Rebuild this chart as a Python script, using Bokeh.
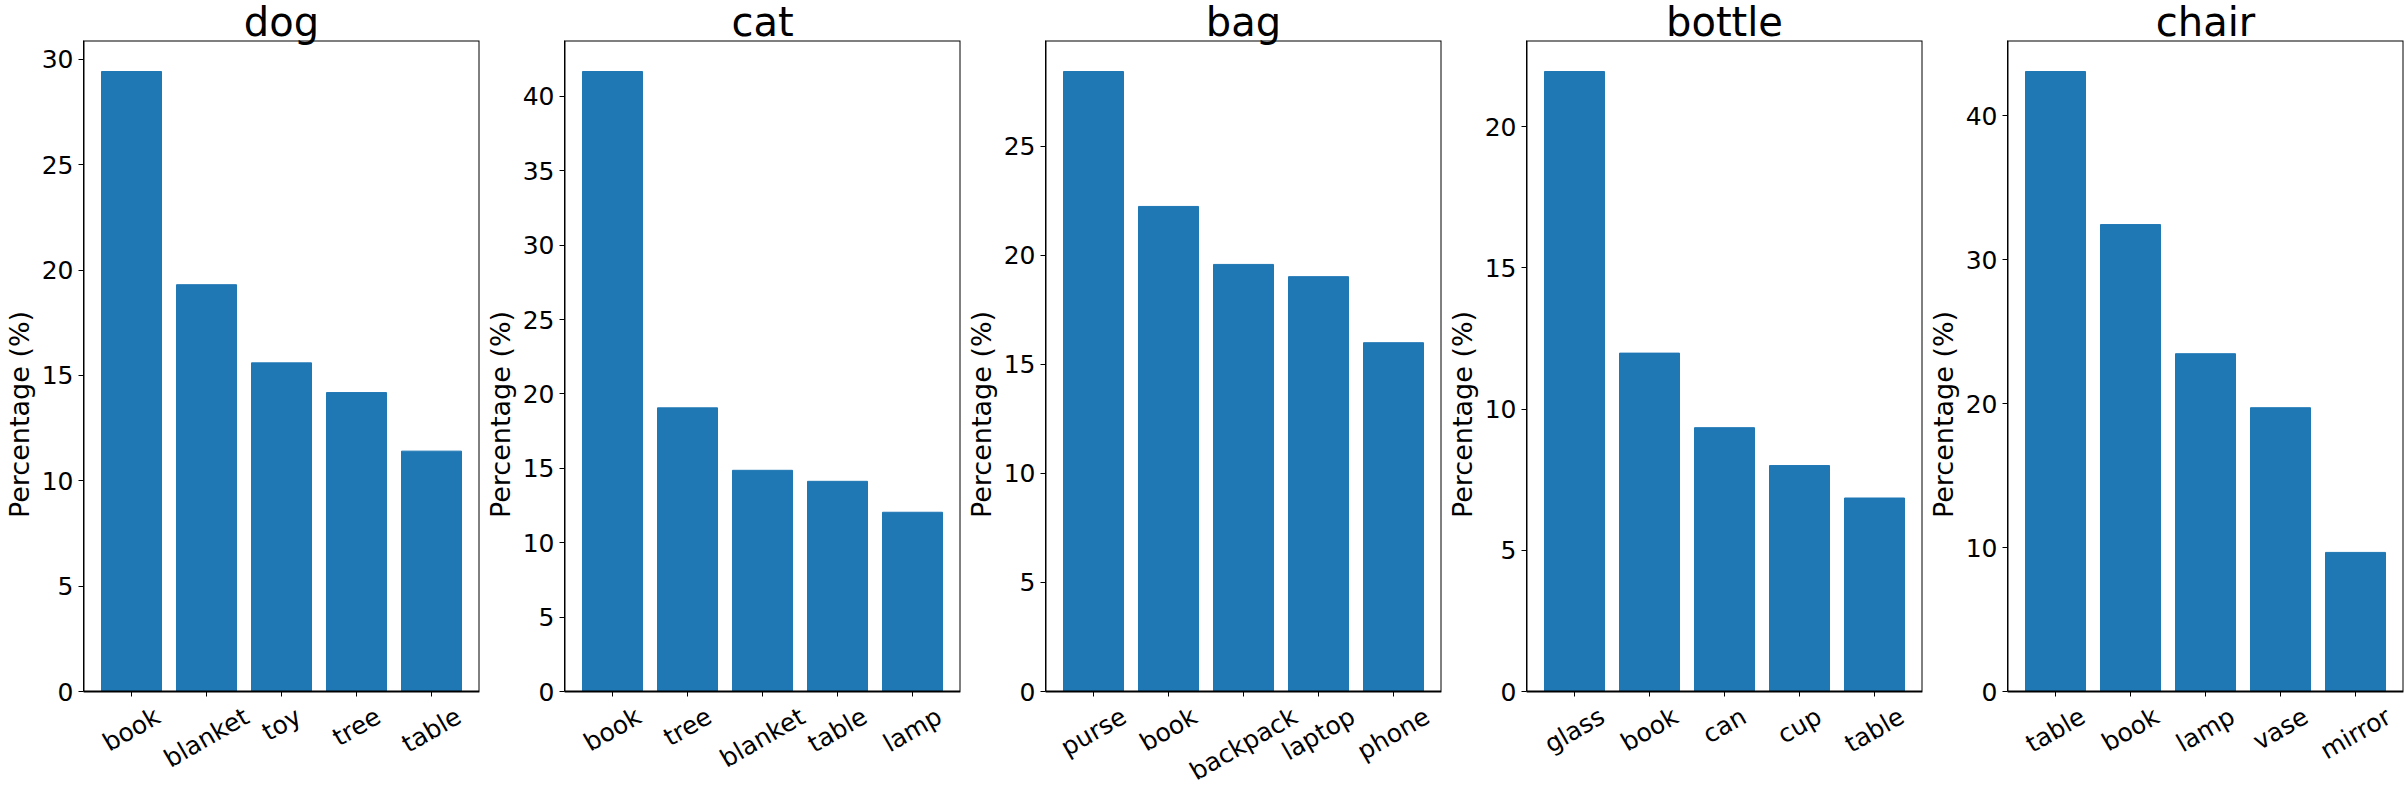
import math
from bokeh.plotting import figure
from bokeh.layouts import row
from bokeh.models import Range1d, FixedTicker, Title, BoxAnnotation
from bokeh.core.properties import value
from bokeh.embed import file_html
from bokeh.resources import INLINE

titles = ["dog", "cat", "bag", "bottle", "chair"]

dog_labels = ["book", "blanket", "toy", "tree", "table"]
dog_values = [29.43, 19.31, 15.60, 14.19, 11.41]

cat_labels = ["book", "tree", "blanket", "table", "lamp"]
cat_values = [41.68, 19.07, 14.87, 14.13, 12.05]

bag_labels = ["purse", "book", "backpack", "laptop", "phone"]
bag_values = [28.44, 22.25, 19.59, 19.03, 16.00]

bottle_labels = ["glass", "book", "can", "cup", "table"]
bottle_values = [21.95, 11.98, 9.34, 8.00, 6.85]

chair_labels = ["table", "book", "lamp", "vase", "mirror"]
chair_values = [43.06, 32.43, 23.46, 19.71, 9.66]

y_tick_steps = [5, 5, 5, 5, 10]
y_label = "Percentage (%)"

all_labels = [dog_labels, cat_labels, bag_labels, bottle_labels, chair_labels]
all_values = [dog_values, cat_values, bag_values, bottle_values, chair_values]

FONT = "DejaVu Sans"
BAR = "#1f77b4"
XFS = 25          # x tick label font size (px)
ROT = math.pi / 6
PLOT_H = 651      # height of the axes box (px)
LAB_H = 97        # extra room below the box for rotated category labels (px)
TICK = 5          # tick length (px)

# approximate DejaVu Sans advance widths (em) used to centre rotated labels like matplotlib
CW = {"a": .613, "b": .635, "c": .550, "d": .635, "e": .615, "g": .635, "h": .634,
      "i": .278, "k": .579, "l": .278, "m": .974, "n": .634, "o": .612, "p": .635,
      "r": .411, "s": .521, "t": .392, "u": .634, "v": .592, "y": .592}


def label_drop_px(s):
    w = sum(CW.get(c, .6) for c in s) * XFS
    h = 1.17 * XFS
    bbox_h = w * math.sin(ROT) + h * math.cos(ROT)
    return 2 * TICK + bbox_h / 2


figs = []
for i, (t, labs, vals, step) in enumerate(zip(titles, all_labels, all_values, y_tick_steps)):
    n = len(vals)
    xs = list(range(n))
    ymax = max(vals) * 1.05
    per_px = ymax / PLOT_H
    ystart = -LAB_H * per_px
    x0 = -0.4 - 0.05 * (n - 0.2)
    x1 = n - 0.6 + 0.05 * (n - 0.2)
    p = figure(frame_width=396, frame_height=PLOT_H + LAB_H,
               x_range=Range1d(x0, x1), y_range=Range1d(ystart, ymax),
               output_backend="svg", toolbar_location=None, x_axis_location=None,
               min_border_left=75 if i == 0 else 80, min_border_right=2,
               min_border_top=0, min_border_bottom=0)
    p.title = Title(text=t, align="center", text_font=FONT, text_font_size="40px",
                    text_font_style="normal", text_color="black", standoff=-8)
    p.outline_line_color = None
    p.xgrid.visible = False
    p.ygrid.visible = False

    p.vbar(x=xs, top=vals, width=0.8, bottom=0, fill_color=BAR, line_color=BAR)

    # axes box
    p.add_layout(BoxAnnotation(left=x0, right=x1, bottom=0, top=ymax,
                               fill_alpha=0, fill_color=None,
                               line_color="black", line_width=2, line_alpha=1.0))

    # category ticks below the box
    p.segment(x0=xs, x1=xs, y0=[0] * n, y1=[-TICK * per_px] * n,
              line_color="black", line_width=1)

    # category labels, centred under their ticks and rotated 30 degrees
    ylab = [-label_drop_px(s) * per_px for s in labs]
    p.text(x=xs, y=ylab, text=labs, angle=ROT, text_align="center",
           text_baseline="middle", text_font=value(FONT),
           text_font_size=f"{XFS}px", text_color="black")

    ya = p.yaxis[0]
    ya.bounds = (0, ymax)
    ticks = list(range(0, int(ymax) + 1, step))
    ya.ticker = FixedTicker(ticks=ticks)
    ya.major_label_text_font = FONT
    ya.major_label_text_font_size = "25px"
    ya.major_label_text_color = "black"
    ya.major_tick_out = TICK
    ya.major_tick_in = 0
    ya.minor_tick_out = 0
    ya.minor_tick_in = 0
    ya.major_label_standoff = 5
    ya.axis_line_color = "black"
    ya.axis_label = y_label
    ya.axis_label_text_font = FONT
    ya.axis_label_text_font_size = "27px"
    ya.axis_label_text_font_style = "normal"
    ya.axis_label_text_color = "black"
    ya.axis_label_standoff = 4
    p.background_fill_color = "white"
    p.border_fill_color = "white"
    figs.append(p)

layout = row(*figs, spacing=0)
open("out.html", "w").write(file_html(layout, INLINE))
